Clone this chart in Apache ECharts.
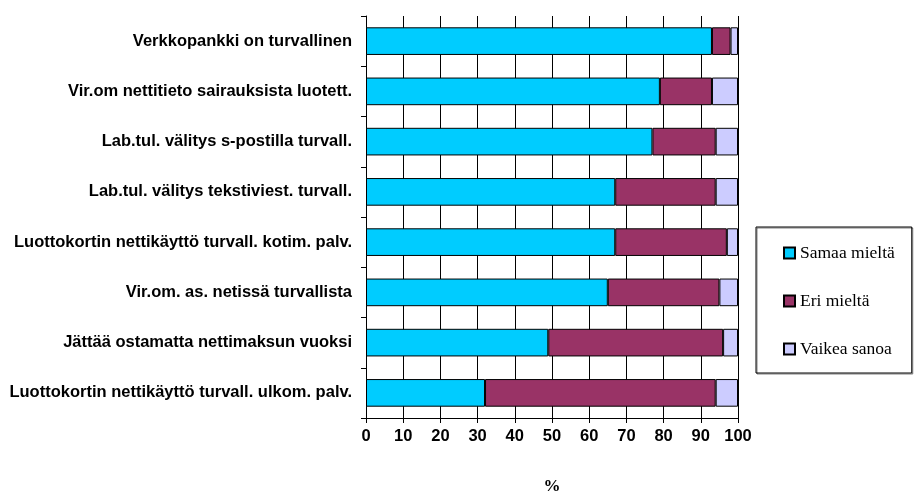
<!DOCTYPE html>
<html>
<head>
<meta charset="utf-8">
<script src="https://cdn.jsdelivr.net/npm/echarts@6/dist/echarts.min.js"></script>
<style>html,body{margin:0;padding:0;background:#fff}#c{width:915px;height:493px}</style>
</head>
<body>
<div id="c"></div>
<script>
const categories = [
  "Verkkopankki on turvallinen",
  "Vir.om nettitieto sairauksista luotett.",
  "Lab.tul. välitys s-postilla turvall.",
  "Lab.tul. välitys tekstiviest. turvall.",
  "Luottokortin nettikäyttö turvall. kotim. palv.",
  "Vir.om. as. netissä turvallista",
  "Jättää ostamatta nettimaksun vuoksi",
  "Luottokortin nettikäyttö turvall. ulkom. palv."
];
const samaaMielta = [93, 79, 77, 67, 67, 65, 49, 32];
const eriMielta   = [5, 14, 17, 27, 30, 30, 47, 62];
const vaikeaSanoa = [2, 7, 6, 6, 3, 5, 4, 6];
const xTicks = [0, 10, 20, 30, 40, 50, 60, 70, 80, 90, 100];

const chart = echarts.init(document.getElementById('c'));
const barStyle = (c) => ({ color: c, borderColor: '#000', borderWidth: 1 });
chart.setOption({
  animation: false,
  backgroundColor: '#fff',
  grid: { left: 366, right: 177, top: 16, bottom: 75, outerBoundsMode: 'none', containLabel: false },
  legend: {
    orient: 'vertical',
    left: 756, top: 227,
    padding: [17, 17, 15, 27],
    itemGap: 30,
    itemWidth: 11, itemHeight: 11,
    borderColor: '#000', borderWidth: 1,
    shadowColor: 'rgba(0,0,0,0.5)', shadowOffsetX: 1, shadowOffsetY: 1, shadowBlur: 0,
    textStyle: { fontFamily: 'Liberation Serif', fontSize: 17.5, color: '#000' },
    icon: 'rect',
    data: ['Samaa mieltä', 'Eri mieltä', 'Vaikea sanoa']
  },
  xAxis: {
    type: 'value', min: 0, max: 100, interval: 10,
    axisLine: { show: true, lineStyle: { color: '#000', width: 1 } },
    axisTick: { show: true, length: 5, lineStyle: { color: '#000' } },
    splitLine: { show: true, lineStyle: { color: '#000', width: 1 } },
    axisLabel: { color: '#000', fontFamily: 'Liberation Sans', fontWeight: 'bold', fontSize: 16.5, margin: 10,
      formatter: (v) => xTicks.includes(v) ? String(v) : '' },
    name: '%', nameLocation: 'middle', nameGap: 60,
    nameTextStyle: { color: '#000', fontFamily: 'Liberation Serif', fontWeight: 'bold', fontSize: 17 }
  },
  yAxis: {
    type: 'category', inverse: true, data: categories,
    axisLine: { show: true, lineStyle: { color: '#000', width: 1 } },
    axisTick: { show: true, length: 5, lineStyle: { color: '#000' } },
    axisLabel: { color: '#000', fontFamily: 'Liberation Sans', fontWeight: 'bold', fontSize: 16.5, margin: 14 }
  },
  series: [
    { name: 'Samaa mieltä', type: 'bar', stack: 's', data: samaaMielta, barWidth: '55%', itemStyle: barStyle('#00CCFF') },
    { name: 'Eri mieltä', type: 'bar', stack: 's', data: eriMielta, barWidth: '55%', itemStyle: barStyle('#993366') },
    { name: 'Vaikea sanoa', type: 'bar', stack: 's', data: vaikeaSanoa, barWidth: '55%', itemStyle: barStyle('#CCCCFF') }
  ]
});
</script>
</body>
</html>
